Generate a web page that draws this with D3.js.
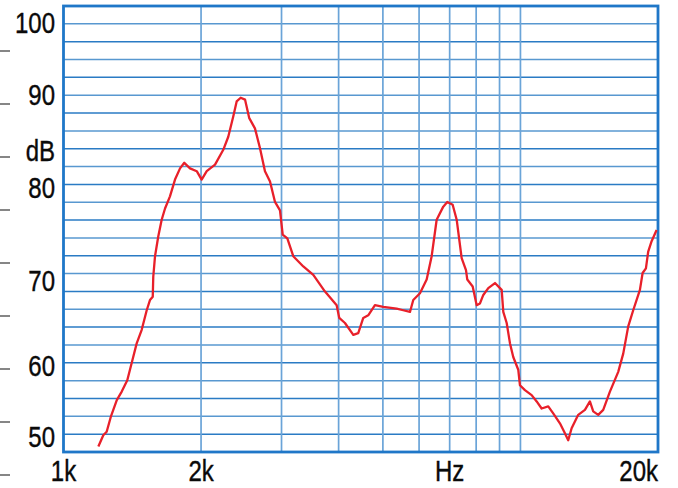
<!DOCTYPE html>
<html>
<head>
<meta charset="utf-8">
<script src="https://cdn.jsdelivr.net/npm/d3@7"></script>
<style>
  html, body { margin: 0; padding: 0; background: #fff; }
  svg { display: block; }
  .lbl { font-family: "Liberation Sans", Arial, sans-serif; font-size: 30px; fill: #0a0a0a; stroke: #0a0a0a; stroke-width: 0.4px; }
</style>
</head>
<body>
<div id="chart"></div>
<script>
// frequency response (Hz, dB)
var freq = [1192,1222,1243,1269,1308,1341,1379,1410,1446,1483,1521,1546,1568,1572,1586,1612,1640,1668,1710,1754,
            1799,1838,1892,1957,2006,2058,2146,2237,2294,2353,2393,2442,2496,2550,2624,2691,2760,2831,2903,2977,
            3018,3089,3183,3348,3521,3735,3961,4013,4130,4307,4416,4529,4644,4804,5009,5359,5541,5731,5827,6027,
            6234,6393,6556,6778,6916,7107,7252,7436,7600,7650,7861,8021,8156,8293,8504,8796,9098,9172,9330,9487,
            9644,9890,9975,10229,10581,10851,11127,11503,11796,12201,12512,12722,12942,13380,13839,14192,14430,14798,15176,15697,
            16368,16786,17214,17652,18258,18508,18819,19038,19367,19860];
var level = [48.5,50.1,50.6,52.7,55.1,56.3,57.9,60.3,62.6,64.2,66.5,67.7,68.1,70.4,72.6,74.7,76.5,77.7,79.0,80.8,
             82.0,82.6,82.0,81.7,80.8,81.7,82.4,84.0,85.4,87.6,89.2,89.6,89.4,87.4,86.3,84.2,81.7,80.6,78.4,77.5,
             74.9,74.5,72.6,71.5,70.6,68.7,67.1,65.6,65.0,63.6,63.8,65.6,65.9,67.1,66.9,66.7,66.5,66.3,67.7,68.5,
             70.1,72.6,76.5,77.9,78.4,78.1,76.5,72.4,71.1,70.1,69.3,67.1,67.3,68.3,69.1,69.7,68.9,66.3,65.0,62.6,
             61.0,59.4,57.2,56.5,55.8,54.9,53.9,54.2,53.2,51.8,50.4,49.4,51.1,53.0,53.7,54.9,53.5,53.0,53.7,56.3,
             59.1,61.4,64.6,66.5,68.9,70.8,71.3,73.1,74.2,75.4];

var yTicks = [100, 90, 80, 70, 60, 50];
var xTicks = [1000, 2000, 20000];
var xTickLabels = ["1k", "2k", "20k"];
var xGrid = [2000, 3000, 4000, 5000, 6000, 7000, 8000, 9000, 10000];
var gridRows = d3.range(0, 26);   // 25 horizontal divisions
var edgeMarks = d3.range(0, 9);   // short dashes at the left page edge

var W = 678, H = 488;
var mLeft = 63.5, mRight = 658, mTop = 6, mBottom = 452;
var squeeze = 0.8;   // narrow print face

var x = d3.scaleLog().domain([1000, 20000]).range([mLeft, mRight]);
// the printed dB labels are not evenly spaced, so the scale follows them
var y = d3.scaleLinear()
    .domain([50, 60, 70, 80, 90, 100])
    .range([436, 365.5, 280.5, 187, 94, 22.5]);
var gy = d3.scaleLinear().domain([0, 25]).range([mBottom, mTop]);
var ey = d3.scaleLinear().domain([0, 8]).range([51, 475]);

var svg = d3.select("#chart").append("svg")
    .attr("width", W).attr("height", H);

svg.append("rect").attr("width", W).attr("height", H).attr("fill", "#fff");

// left edge dashes
svg.append("g").selectAll("line").data(edgeMarks).join("line")
    .attr("x1", 0).attr("x2", 10)
    .attr("y1", function(d) { return ey(d); })
    .attr("y2", function(d) { return ey(d); })
    .attr("stroke", "#444").attr("stroke-width", 1.3);

// horizontal grid
svg.append("g").selectAll("line").data(gridRows).join("line")
    .attr("x1", mLeft).attr("x2", mRight)
    .attr("y1", function(d) { return gy(d); })
    .attr("y2", function(d) { return gy(d); })
    .attr("stroke", function(d) { return d % 2 ? "#2a7bc4" : "#5898d0"; })
    .attr("stroke-width", 1.5);

// vertical grid
svg.append("g").selectAll("line").data(xGrid).join("line")
    .attr("x1", function(d) { return x(d); })
    .attr("x2", function(d) { return x(d); })
    .attr("y1", mTop).attr("y2", mBottom)
    .attr("stroke", "#6aa4d8").attr("stroke-width", 1.7);

// frame
svg.append("rect")
    .attr("x", mLeft).attr("y", mTop)
    .attr("width", mRight - mLeft).attr("height", mBottom - mTop)
    .attr("fill", "none").attr("stroke", "#1f77c8").attr("stroke-width", 2.8);

// curve
var pts = freq.map(function(f, i) { return [f, level[i]]; });
var line = d3.line()
    .x(function(d) { return x(d[0]); })
    .y(function(d) { return y(d[1]); });
svg.append("path")
    .datum(pts)
    .attr("d", line)
    .attr("fill", "none")
    .attr("stroke", "#e8202a")
    .attr("stroke-width", 2.3)
    .attr("stroke-linejoin", "round");

function label(px, py, txt, anchor, dy) {
    svg.append("text").attr("class", "lbl")
        .attr("transform", "translate(" + px + "," + py + ") scale(" + squeeze + ",1)")
        .attr("dy", dy || 0)
        .attr("text-anchor", anchor)
        .text(txt);
}

// y labels
yTicks.forEach(function(d) { label(55, y(d), d, "end", "0.36em"); });
label(55, y(84), "dB", "end", "0.36em");

// x labels
xTicks.forEach(function(d, i) {
    label(x(d), 481, xTickLabels[i], d == 20000 ? "end" : "middle");
});
label(x(7000), 481, "Hz", "middle");
</script>
</body>
</html>
